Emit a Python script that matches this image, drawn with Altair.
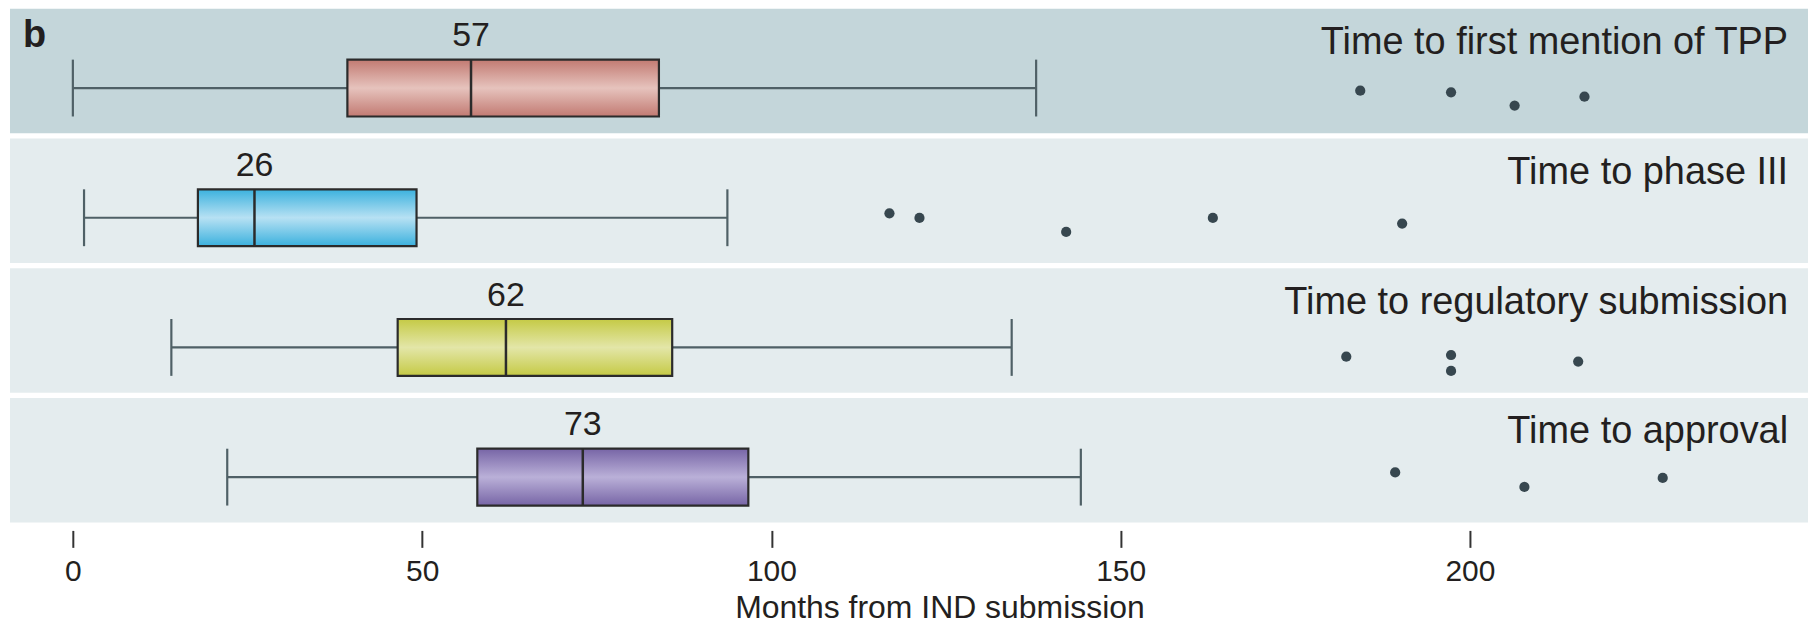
import altair as alt
import pandas as pd

# ---- data ----
stages = ["Time to first mention of TPP", "Time to phase III",
          "Time to regulatory submission", "Time to approval"]
whisker_low = [0, 1.6, 14.1, 22.1]
q1 = [39.3, 17.9, 46.5, 57.9]
median = [57, 26, 62, 73]
q3 = [83.9, 49.2, 85.8, 96.7]
whisker_high = [137.9, 93.7, 134.4, 144.3]

outlier_stage = [0, 0, 0, 0, 1, 1, 1, 1, 1, 2, 2, 2, 2, 3, 3, 3]
outlier_value = [184.3, 197.3, 206.4, 216.4,
                 116.9, 121.2, 142.2, 163.2, 190.3,
                 182.3, 197.3, 197.3, 215.5,
                 189.3, 207.8, 227.6]
outlier_jitter = [0.657, 0.670, 0.777, 0.705,
                  0.601, 0.638, 0.750, 0.638, 0.683,
                  0.710, 0.697, 0.825, 0.750,
                  0.598, 0.715, 0.643]

box_dark = ["#c27a72", "#3bb1de", "#c5ca45", "#7765a6"]
box_light = ["#e6c3bd", "#b7e1f3", "#e3e6a8", "#bab0d8"]
panel_colors = ["#c4d6da", "#e4ecee", "#e4ecee", "#e4ecee"]

tick_values = [0, 50, 100, 150, 200]
x_title = "Months from IND submission"
panel_letter = "b"

stats = pd.DataFrame({
    "stage": stages, "low": whisker_low, "q1": q1, "median": median,
    "q3": q3, "high": whisker_high, "panel": panel_colors,
})
outliers = pd.DataFrame({
    "stage": [stages[i] for i in outlier_stage],
    "value": outlier_value,
    "jitter": outlier_jitter,
})

FONT = "Liberation Sans"
TXT = "#231f20"
WHISK = "#4f6066"
EDGE = "#2b2b2b"
BOX_H = 57
BOX_OFF = 17
W, H = 1803, 515
PAD_INNER = 0.04
PANEL_H = H * (1 - PAD_INNER) / (len(stages) - PAD_INNER)

xscale = alt.Scale(domain=[-9, 248.4], nice=False, zero=False)
xaxis = alt.Axis(values=tick_values, title=x_title, domain=False, grid=False,
                 ticks=True, tickSize=17, tickWidth=2, tickColor="#333333",
                 offset=8, labelFontSize=30, labelFont=FONT, labelColor=TXT,
                 labelPadding=9, titleFont=FONT, titleFontSize=32,
                 titleFontWeight="normal", titleColor=TXT, titleX=932,
                 titleY=87, titleBaseline="alphabetic", titleAlign="center")


def X(field):
    return alt.X(f"{field}:Q", scale=xscale, axis=xaxis)


Y = alt.Y("stage:N", sort=stages, axis=None,
          scale=alt.Scale(domain=stages, paddingInner=PAD_INNER, paddingOuter=0))

base = alt.Chart(stats)

panels = base.mark_bar(opacity=1, size=PANEL_H).encode(
    x=alt.value(0), x2=alt.value(W),
    y=Y, fill=alt.Fill("panel:N", scale=None))

whisker = base.mark_rule(yOffset=BOX_OFF, strokeWidth=2.2, color=WHISK).encode(
    x=X("low"), x2="high", y=Y)
cap_lo = base.mark_tick(yOffset=BOX_OFF, size=BOX_H, thickness=2.2,
                        color=WHISK, orient="vertical", opacity=1).encode(x=X("low"), y=Y)
cap_hi = base.mark_tick(yOffset=BOX_OFF, size=BOX_H, thickness=2.2,
                        color=WHISK, orient="vertical", opacity=1).encode(x=X("high"), y=Y)

boxes = []
for i, s in enumerate(stages):
    grad = alt.Gradient(
        gradient="linear",
        stops=[alt.GradientStop(color=box_dark[i], offset=0),
               alt.GradientStop(color=box_light[i], offset=0.5),
               alt.GradientStop(color=box_dark[i], offset=1)],
        x1=0, x2=0, y1=0, y2=1)
    boxes.append(
        base.transform_filter(alt.datum.stage == s)
        .mark_bar(size=BOX_H, yOffset=BOX_OFF, fill=grad, stroke=EDGE,
                  strokeWidth=2.2, opacity=1)
        .encode(x=X("q1"), x2="q3", y=Y))

med_line = base.mark_tick(yOffset=BOX_OFF, size=BOX_H, thickness=2.5,
                          color=EDGE, orient="vertical", opacity=1).encode(x=X("median"), y=Y)

dots = alt.Chart(outliers).mark_circle(size=105, color="#37474f", opacity=1).encode(
    x=X("value"), y=Y,
    yOffset=alt.YOffset("jitter:Q", scale=alt.Scale(domain=[0, 1])))

med_text = base.mark_text(baseline="middle", dy=-35, fontSize=34, font=FONT,
                          color=TXT).encode(x=X("median"), y=Y, text="median:Q")

stage_text = base.mark_text(align="right", baseline="middle", dy=-28,
                            fontSize=38, font=FONT, color=TXT).encode(
    x=alt.value(1783), y=Y, text="stage:N")

letter = alt.Chart(pd.DataFrame({"t": [panel_letter]})).mark_text(
    align="left", baseline="alphabetic", fontSize=38, fontWeight="bold",
    font=FONT, color=TXT).encode(x=alt.value(13), y=alt.value(38), text="t:N")

chart = alt.layer(
    panels, whisker, cap_lo, cap_hi, *boxes, med_line, dots, med_text,
    stage_text, letter
).properties(
    width=W, height=H,
    autosize=alt.AutoSizeParams(type="none"),
    padding={"left": 2, "top": 0, "right": 0, "bottom": 102},
    background="white",
).configure_view(stroke=None)

chart.save("out.html", embed_options={"renderer": "svg", "actions": False})
